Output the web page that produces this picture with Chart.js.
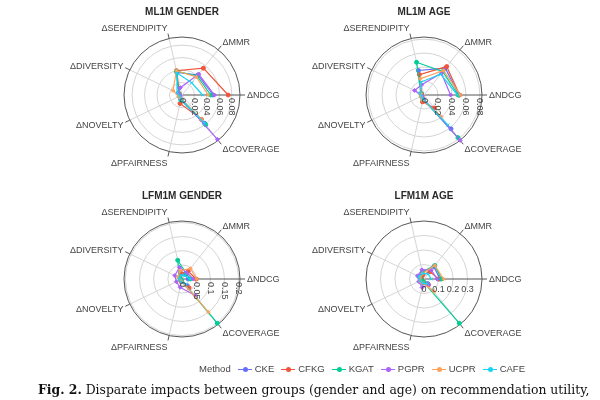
<!DOCTYPE html>
<html>
<head>
<meta charset="utf-8">
<script src="https://cdn.jsdelivr.net/npm/chart.js@4"></script>
<style>
  html, body { margin: 0; padding: 0; background: #fff; }
  #wrap { position: relative; width: 600px; height: 400px; overflow: hidden; background: #fff; }
  #wrap canvas { position: absolute; }
  #legend { position: absolute; left: 199px; top: 363px; white-space: nowrap;
            font: 9.5px "Liberation Sans", Arial, sans-serif; color: #444; }
  #legend .item { margin-left: 7px; }
  #legend .sw { display: inline-block; position: relative; width: 14px; height: 1.5px; vertical-align: middle; margin-right: 3px; }
  #legend .sw i { position: absolute; left: 5px; top: -2px; width: 5px; height: 5px; border-radius: 50%; }
  #caption { position: absolute; left: 38px; top: 382px; white-space: nowrap;
             font: 12.4px "DejaVu Serif", serif; color: #111; }
</style>
</head>
<body>
<div id="wrap">
  <canvas id="c1" width="250" height="180" style="left:57px;top:0px"></canvas>
  <canvas id="c2" width="250" height="180" style="left:299px;top:0px"></canvas>
  <canvas id="c3" width="250" height="180" style="left:57px;top:184px"></canvas>
  <canvas id="c4" width="250" height="180" style="left:299px;top:184px"></canvas>
  <div id="legend"></div>
  <div id="caption"><b>Fig. 2.</b> Disparate impacts between groups (gender and age) on recommendation utility,</div>
</div>
<script>
// axes in the order they go round the plot (counter-clockwise from the right)
const axisLabels = ['ΔNDCG', 'ΔMMR', 'ΔSERENDIPITY', 'ΔDIVERSITY', 'ΔNOVELTY', 'ΔPFAIRNESS', 'ΔCOVERAGE'];
const methods = ['CKE', 'CFKG', 'KGAT', 'PGPR', 'UCPR', 'CAFE'];
const colors = ['#636efa', '#ef553b', '#00cc96', '#ab63fa', '#ffa15a', '#19d3f3'];
const markers = ['circle', 'circle', 'circle', 'rectRot', 'star', 'crossRot'];

// one row per method, values in axisLabels order
const ml1mGender = [
    [0.050, 0.041, 0.037, 0.006, 0.004, 0.008, 0.058],
    [0.074, 0.055, 0.040, 0.005, 0.004, 0.014, 0.050],
    [0.046, 0.039, 0.039, 0.006, 0.005, 0.008, 0.061],
    [0.052, 0.043, 0.012, 0.007, 0.003, 0.006, 0.091],
    [0.042, 0.037, 0.040, 0.016, 0.006, 0.006, 0.050],
    [0.033, 0.025, 0.036, 0.008, 0.004, 0.007, 0.058]
];
const ml1mAge = [
    [0.050, 0.049, 0.036, 0.004, 0.004, 0.006, 0.062],
    [0.051, 0.052, 0.030, 0.004, 0.003, 0.010, 0.024],
    [0.049, 0.043, 0.048, 0.005, 0.004, 0.006, 0.078],
    [0.038, 0.040, 0.015, 0.015, 0.003, 0.005, 0.083],
    [0.052, 0.045, 0.024, 0.005, 0.005, 0.008, 0.040],
    [0.048, 0.038, 0.019, 0.006, 0.004, 0.006, 0.055]
];
const lfm1mGender = [
    [0.022, 0.020, 0.022, 0.008, 0.006, 0.008, 0.030],
    [0.050, 0.035, 0.020, 0.008, 0.006, 0.010, 0.040],
    [0.030, 0.025, 0.068, 0.010, 0.005, 0.006, 0.200],
    [0.040, 0.028, 0.042, 0.028, 0.022, 0.030, 0.075],
    [0.052, 0.048, 0.030, 0.016, 0.008, 0.008, 0.150],
    [0.028, 0.015, 0.014, 0.010, 0.008, 0.012, 0.022]
];
const lfm1mAge = [
    [0.110, 0.110, 0.050, 0.040, 0.020, 0.030, 0.040],
    [0.100, 0.065, 0.030, 0.020, 0.015, 0.020, 0.050],
    [0.120, 0.120, 0.050, 0.030, 0.020, 0.020, 0.390],
    [0.090, 0.080, 0.065, 0.050, 0.040, 0.060, 0.050],
    [0.135, 0.120, 0.040, 0.030, 0.030, 0.030, 0.110],
    [0.050, 0.045, 0.040, 0.040, 0.030, 0.030, 0.040]
];

const ml1mTicks = [0, 0.02, 0.04, 0.06, 0.08];
const lfm1mGenderTicks = [0, 0.05, 0.1, 0.15, 0.2];
const lfm1mAgeTicks = [0, 0.1, 0.2, 0.3];

// chart.js radar goes clockwise, so feed the axes reversed
const rev = arr => arr.slice().reverse();
const NDCG_INDEX = axisLabels.length - 1;

// outer ring, axis tick marks, axis labels and radial tick labels (plotly look)
const polarFrame = {
    id: 'polarFrame',
    afterDatasetsUpdate(chart) {
        // lines are open between ΔCOVERAGE and ΔNDCG
        chart.getSortedVisibleDatasetMetas().forEach(m => {
            m.dataset._loop = false;
            m.dataset._fullLoop = false;
            delete m.dataset._segments;
            delete m.dataset._path;
        });
    },
    beforeDatasetsDraw(chart) {
        const s = chart.scales.r;
        const ctx = chart.ctx;
        ctx.save();
        ctx.strokeStyle = '#555';
        ctx.lineWidth = 1;
        ctx.beginPath();
        ctx.arc(s.xCenter, s.yCenter, s.drawingArea, 0, Math.PI * 2);
        ctx.stroke();
        chart.data.labels.forEach((t, i) => {
            const a = s.getPointPosition(i, s.drawingArea);
            const b = s.getPointPosition(i, s.drawingArea + 5);
            ctx.beginPath();
            ctx.moveTo(a.x, a.y);
            ctx.lineTo(b.x, b.y);
            ctx.stroke();
        });
        ctx.restore();
    },
    afterDraw(chart, args, opts) {
        const s = chart.scales.r;
        const ctx = chart.ctx;
        ctx.save();
        ctx.fillStyle = '#444';
        ctx.font = '9px "Liberation Sans", Arial, sans-serif';
        ctx.textBaseline = 'middle';
        chart.data.labels.forEach((t, i) => {
            const p = s.getPointPosition(i, s.drawingArea + 7);
            const c = Math.cos(p.angle), sn = Math.sin(p.angle);
            ctx.textAlign = c > 0.05 ? 'left' : (c < -0.05 ? 'right' : 'center');
            ctx.fillText(t, p.x, p.y + sn * 4 + 1);
        });
        opts.ticks.forEach(v => {
            const p = s.getPointPosition(NDCG_INDEX, s.getDistanceFromCenterForValue(v));
            ctx.save();
            if (opts.rotated) {
                ctx.translate(p.x, p.y + 3);
                ctx.rotate(Math.PI / 2);
                ctx.textAlign = 'left';
                ctx.fillText(String(v), 0, 0);
            } else {
                ctx.textAlign = 'center';
                ctx.fillText(String(v), p.x, p.y + 11);
            }
            ctx.restore();
        });
        ctx.restore();
    }
};

function renderPolar(id, title, rows, ticks, rangeMax, rotated) {
    const ctx = document.getElementById(id).getContext('2d');
    return new Chart(ctx, {
        type: 'radar',
        data: {
            labels: rev(axisLabels),
            datasets: rows.map((row, k) => ({
                label: methods[k],
                data: rev(row),
                borderColor: colors[k],
                backgroundColor: colors[k],
                pointBackgroundColor: colors[k],
                pointBorderColor: colors[k],
                pointStyle: markers[k],
                pointRadius: 2,
                pointBorderWidth: 1,
                borderWidth: 1.2,
                fill: false,
                tension: 0,
                order: rows.length - k
            }))
        },
        options: {
            responsive: false,
            animation: false,
            devicePixelRatio: 1,
            layout: { padding: { top: 0, bottom: 27, left: 0, right: 0 } },
            plugins: {
                legend: { display: false },
                tooltip: { enabled: false },
                title: {
                    display: true,
                    text: title,
                    color: '#2a2a2a',
                    font: { family: '"Liberation Sans", Arial, sans-serif', size: 10, weight: 'bold' },
                    padding: { top: 6, bottom: 19 }
                },
                polarFrame: { ticks, rotated }
            },
            scales: {
                r: {
                    min: 0,
                    max: rangeMax,
                    bounds: 'data',
                    startAngle: 90 + 360 / axisLabels.length,
                    afterBuildTicks: scale => { scale.ticks = ticks.map(v => ({ value: v })); },
                    ticks: { display: false },
                    pointLabels: { display: false },
                    grid: { circular: true, color: '#d4d4d4', lineWidth: 1 },
                    angleLines: { color: c => c.index === NDCG_INDEX ? '#555' : '#d4d4d4', lineWidth: 1 }
                }
            }
        },
        plugins: [polarFrame]
    });
}

renderPolar('c1', 'ML1M GENDER', ml1mGender, ml1mTicks, 0.093, true);
renderPolar('c2', 'ML1M AGE', ml1mAge, ml1mTicks, 0.083, true);
renderPolar('c3', 'LFM1M GENDER', lfm1mGender, lfm1mGenderTicks, 0.205, true);
renderPolar('c4', 'LFM1M AGE', lfm1mAge, lfm1mAgeTicks, 0.4, false);

// legend
const legend = document.getElementById('legend');
legend.innerHTML = '<span>Method</span>' + methods.map((m, k) =>
    `<span class="item"><span class="sw" style="background:${colors[k]}"><i style="background:${colors[k]}"></i></span>${m}</span>`
).join('');
</script>
</body>
</html>
